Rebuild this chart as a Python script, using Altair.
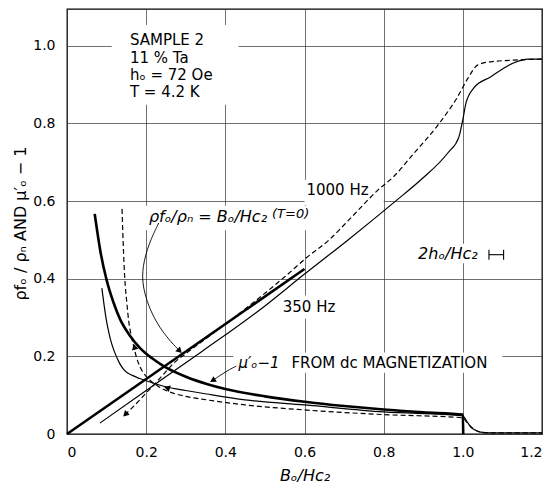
import altair as alt
import pandas as pd

# ---------------- data ----------------
# thick straight line: rho_fo/rho_n = B0/Hc2 (T=0)
rho_theory_x = [0.0, 0.6]
rho_theory_y = [0.0, 0.425]

# thick decreasing curve: mu'_0 - 1 from dc magnetization
mu_dc_x = [0.07, 0.085, 0.1, 0.117, 0.134, 0.16, 0.184, 0.215, 0.244, 0.302, 0.353,
           0.4, 0.5, 0.6, 0.7, 0.8, 0.9, 1.0, 1.001]
mu_dc_y = [0.567, 0.467, 0.397, 0.34, 0.296, 0.252, 0.222, 0.195, 0.175, 0.147, 0.129,
           0.116, 0.097, 0.083, 0.072, 0.063, 0.056, 0.05, 0.0]

# thin solid: 350 Hz
rho_350_x = [0.083, 0.2, 0.34, 0.5, 0.6, 0.71, 0.83, 0.894, 0.962, 0.99, 1.0, 1.008,
             1.028, 1.07, 1.128, 1.164, 1.2]
rho_350_y = [0.028, 0.112, 0.212, 0.33, 0.412, 0.5, 0.6, 0.655, 0.724, 0.765, 0.81,
             0.853, 0.892, 0.92, 0.956, 0.966, 0.966]
mu_350_x = [0.088, 0.094, 0.1, 0.106, 0.113, 0.121, 0.133, 0.144, 0.165, 0.184, 0.215,
            0.252, 0.3, 0.353, 0.45, 0.6, 0.8, 1.0, 1.008, 1.02, 1.033, 1.045, 1.07, 1.2]
mu_350_y = [0.376, 0.33, 0.29, 0.26, 0.232, 0.209, 0.182, 0.165, 0.151, 0.143, 0.132,
            0.121, 0.112, 0.103, 0.088, 0.075, 0.057, 0.047, 0.036, 0.018, 0.009, 0.005,
            0.003, 0.003]

# dashed: 1000 Hz
rho_1000_x = [0.146, 0.165, 0.184, 0.2, 0.219, 0.245, 0.27, 0.3, 0.35, 0.45, 0.55, 0.605,
              0.662, 0.72, 0.786, 0.824, 0.877, 0.937, 0.987, 1.013, 1.038, 1.07, 1.146, 1.2]
rho_1000_y = [0.049, 0.068, 0.088, 0.106, 0.126, 0.155, 0.183, 0.207, 0.245, 0.322, 0.405,
              0.454, 0.5, 0.56, 0.629, 0.662, 0.724, 0.796, 0.869, 0.917, 0.951, 0.959,
              0.964, 0.966]
mu_1000_x = [0.139, 0.142, 0.146, 0.151, 0.156, 0.162, 0.169, 0.176, 0.185, 0.197, 0.21,
             0.23, 0.26, 0.3, 0.353, 0.45, 0.6, 0.8, 1.0, 1.01, 1.025, 1.04, 1.06, 1.2]
mu_1000_y = [0.58, 0.49, 0.4, 0.34, 0.29, 0.255, 0.224, 0.196, 0.172, 0.152, 0.138,
             0.123, 0.108, 0.097, 0.088, 0.075, 0.062, 0.05, 0.042, 0.03, 0.015, 0.006,
             0.003, 0.003]

# annotation leader curves
lead_rho_x = [0.232, 0.207, 0.19, 0.191, 0.207, 0.225, 0.244, 0.27, 0.287]
lead_rho_y = [0.544, 0.492, 0.43, 0.379, 0.327, 0.29, 0.26, 0.229, 0.212]
lead_mu_x = [0.428, 0.41, 0.39, 0.365]
lead_mu_y = [0.175, 0.166, 0.153, 0.136]

# arrow heads (x, y, angle)
arrow_x = [0.283, 0.37, 0.149, 0.171, 0.255]
arrow_y = [0.216, 0.139, 0.052, 0.222, 0.118]
arrow_a = [135, 238, 225, 345, 287]

# white boxes where grid lines are interrupted by text
box_x1 = [0.113, 0.19, 0.6, 0.88, 0.545, 0.42]
box_x2 = [0.433, 0.67, 0.8, 1.12, 0.7, 1.1]
box_y1 = [0.848, 0.525, 0.59, 0.44, 0.297, 0.158]
box_y2 = [1.054, 0.588, 0.655, 0.49, 0.357, 0.21]

# texts
sample_text = ["SAMPLE 2", "11 % Ta", "hₒ = 72 Oe", "T = 4.2 K"]
sample_x = [0.159, 0.159, 0.159, 0.159]
sample_y = [1.015, 0.969, 0.925, 0.881]

# scale bar 2h0/Hc2
bar_x = [1.066, 1.103]
bar_y = [0.462, 0.462]
bar_lo = [0.449, 0.449]
bar_hi = [0.475, 0.475]

x_ticks = [0, 0.2, 0.4, 0.6, 0.8, 1.0, 1.2]
y_ticks = [0, 0.2, 0.4, 0.6, 0.8, 1.0]

# ---------------- build tables ----------------
def mk(name, xs, ys):
    return pd.DataFrame({"x": xs, "y": ys, "s": name, "o": list(range(len(xs)))})

thick_df = pd.concat([mk("rho_theory", rho_theory_x, rho_theory_y),
                      mk("mu_dc", mu_dc_x, mu_dc_y)])
thin_df = pd.concat([mk("rho_350", rho_350_x, rho_350_y),
                     mk("mu_350", mu_350_x, mu_350_y)])
dash_df = pd.concat([mk("rho_1000", rho_1000_x, rho_1000_y),
                     mk("mu_1000", mu_1000_x, mu_1000_y)])
lead_df = pd.concat([mk("lead_rho", lead_rho_x, lead_rho_y),
                     mk("lead_mu", lead_mu_x, lead_mu_y)])
arrow_df = pd.DataFrame({"x": arrow_x, "y": arrow_y, "a": arrow_a})
box_df = pd.DataFrame({"x": box_x1, "x2": box_x2, "y": box_y1, "y2": box_y2})
bar_df = pd.DataFrame({"x": [bar_x[0]], "x2": [bar_x[1]], "y": [bar_y[0]]})
ends_df = pd.DataFrame({"x": bar_x, "y": bar_lo, "y2": bar_hi})

FONT = "DejaVu Sans"
xs = alt.Scale(domain=[0, 1.2], nice=False, zero=False)
ys = alt.Scale(domain=[0, 1.095], nice=False, zero=False)

xaxis = alt.Axis(values=x_ticks,
                 labelExpr="datum.value == 0 ? '0' : format(datum.value, '.1f')",
                 title="Bₒ/Hc₂", titleFontStyle="italic", titlePadding=8,
                 labelPadding=11)
yaxis = alt.Axis(values=y_ticks,
                 labelExpr="datum.value == 0 ? '0' : format(datum.value, '.1f')",
                 title="ρfₒ / ρₙ  AND  μ′ₒ − 1",
                 titleX=-47, titleY=214, titleAngle=270, titleBaseline="middle",
                 labelPadding=12)

X = alt.X("x:Q", scale=xs, axis=xaxis)
Y = alt.Y("y:Q", scale=ys, axis=yaxis)

boxes = alt.Chart(box_df).mark_rect(color="white").encode(
    x=X, x2="x2:Q", y=Y, y2="y2:Q")

thick = alt.Chart(thick_df).mark_line(color="black", strokeWidth=2.6,
                                      interpolate="monotone").encode(
    x=X, y=Y, detail="s:N", order="o:Q")
thin = alt.Chart(thin_df).mark_line(color="black", strokeWidth=1.2,
                                    interpolate="monotone").encode(
    x=X, y=Y, detail="s:N", order="o:Q")
dashed = alt.Chart(dash_df).mark_line(color="black", strokeWidth=1.2,
                                      strokeDash=[5, 3],
                                      interpolate="monotone").encode(
    x=X, y=Y, detail="s:N", order="o:Q")
leaders = alt.Chart(lead_df).mark_line(color="black", strokeWidth=0.9,
                                       interpolate="basis").encode(
    x=X, y=Y, detail="s:N", order="o:Q")
arrows = alt.Chart(arrow_df).mark_point(shape="triangle", filled=True, color="black",
                                        size=45, opacity=1).encode(
    x=X, y=Y, angle=alt.Angle("a:Q", scale=None))

def txt(texts, xv, yv, size=14, style="normal", align="left"):
    df = pd.DataFrame({"x": xv, "y": yv, "t": texts})
    return alt.Chart(df).mark_text(font=FONT, fontSize=size, fontStyle=style,
                                   align=align, baseline="middle",
                                   color="black").encode(x=X, y=Y, text="t:N")

texts = [
    txt(sample_text, sample_x, sample_y, size=15),
    txt(["ρfₒ/ρₙ = Bₒ/Hc₂"], [0.207], [0.56], size=16, style="italic"),
    txt(["(T=0)"], [0.518], [0.566], size=13, style="italic"),
    txt(["1000 Hz"], [0.605], [0.629], size=15),
    txt(["350 Hz"], [0.545], [0.327], size=15),
    txt(["2hₒ/Hc₂"], [0.887], [0.464], size=16, style="italic"),
    txt(["μ′ₒ−1"], [0.433], [0.183], size=15, style="italic"),
    txt(["FROM dc MAGNETIZATION"], [0.567], [0.183], size=15),
]

bar = alt.Chart(bar_df).mark_rule(color="black", strokeWidth=1.1).encode(
    x=X, x2="x2:Q", y=Y)
ends = alt.Chart(ends_df).mark_rule(color="black", strokeWidth=1.1).encode(
    x=X, y=Y, y2="y2:Q")

chart = alt.layer(boxes, thin, dashed, thick, leaders, arrows, bar, ends,
                  *texts).properties(
    width=475, height=425,
    autosize=alt.AutoSizeParams(type="none"),
    padding={"left": 67, "top": 9, "right": 12, "bottom": 60},
    background="white",
).configure_view(stroke="black", strokeWidth=1.3).configure_axis(
    labelFont=FONT, labelFontSize=14, labelColor="black",
    titleFont=FONT, titleFontSize=16, titleFontWeight="normal", titleColor="black",
    ticks=False, domain=False, grid=True, gridColor="#333", gridWidth=0.7,
)

chart.save("out.html", embed_options={"renderer": "svg", "actions": False})
